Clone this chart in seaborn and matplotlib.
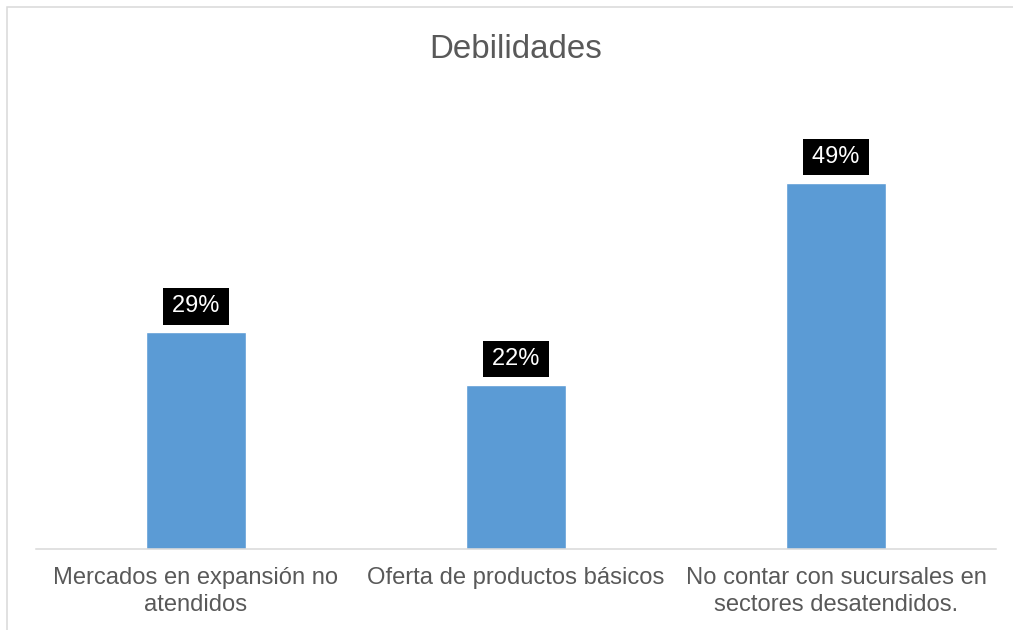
import matplotlib
matplotlib.use("Agg")
import matplotlib.pyplot as plt
import matplotlib.patches as mpatches
import pandas as pd
import seaborn as sns

# Chart data
categorias = [
    "Mercados en expansión no\natendidos",
    "Oferta de productos básicos",
    "No contar con sucursales en\nsectores desatendidos.",
]
porcentajes = [29, 22, 49]
etiquetas = ["29%", "22%", "49%"]
titulo = "Debilidades"

df = pd.DataFrame({"categoria": categorias, "porcentaje": porcentajes})

sns.set_theme(style="white")
plt.rcParams["font.family"] = ["Liberation Sans", "DejaVu Sans"]

W, H, DPI = 1013, 630, 100
fig = plt.figure(figsize=(W / DPI, H / DPI), dpi=DPI)
fig.patch.set_facecolor("white")

# Plot area in pixel terms
left_px, right_px = 36, 996
base_px, top_px = 549, 101
ax = fig.add_axes([left_px / W, 1 - base_px / H,
                   (right_px - left_px) / W, (base_px - top_px) / H])

sns.barplot(data=df, x="categoria", y="porcentaje", color="#5B9BD5",
            width=0.3125, saturation=1, ax=ax)

ax.set_ylim(0, 60)
ax.set_xlim(-0.5, 2.5)
ax.set_xlabel("")
ax.set_ylabel("")
ax.set_yticks([])
for side in ["top", "right", "left"]:
    ax.spines[side].set_visible(False)
ax.spines["bottom"].set_color("#D9D9D9")
ax.spines["bottom"].set_linewidth(1.1)
ax.tick_params(axis="x", length=0, pad=13, labelsize=17.1, labelcolor="#595959")
for lbl in ax.get_xticklabels():
    lbl.set_multialignment("center")
    lbl.set_linespacing(1.32)

# Data labels in black boxes
for i, (v, t) in enumerate(zip(porcentajes, etiquetas)):
    ax.annotate("\u200a" + t + "\u200a", xy=(i, v), xytext=(0, 26),
                textcoords="offset pixels",
                ha="center", va="center", fontsize=17, color="white",
                bbox=dict(boxstyle="square,pad=0.3", facecolor="black", edgecolor="none"))

# Title
fig.text(516 / W, 1 - 58 / H, titulo, ha="center", va="baseline",
         fontsize=23.8, color="#595959")

# Chart-area border
border = mpatches.Rectangle((6.5 / W, -0.05), 1.1, 1 - 6.5 / H + 0.05,
                            transform=fig.transFigure, fill=False,
                            edgecolor="#D9D9D9", linewidth=1.1)
fig.patches.append(border)

fig.savefig("out.png", dpi=DPI, facecolor="white")
